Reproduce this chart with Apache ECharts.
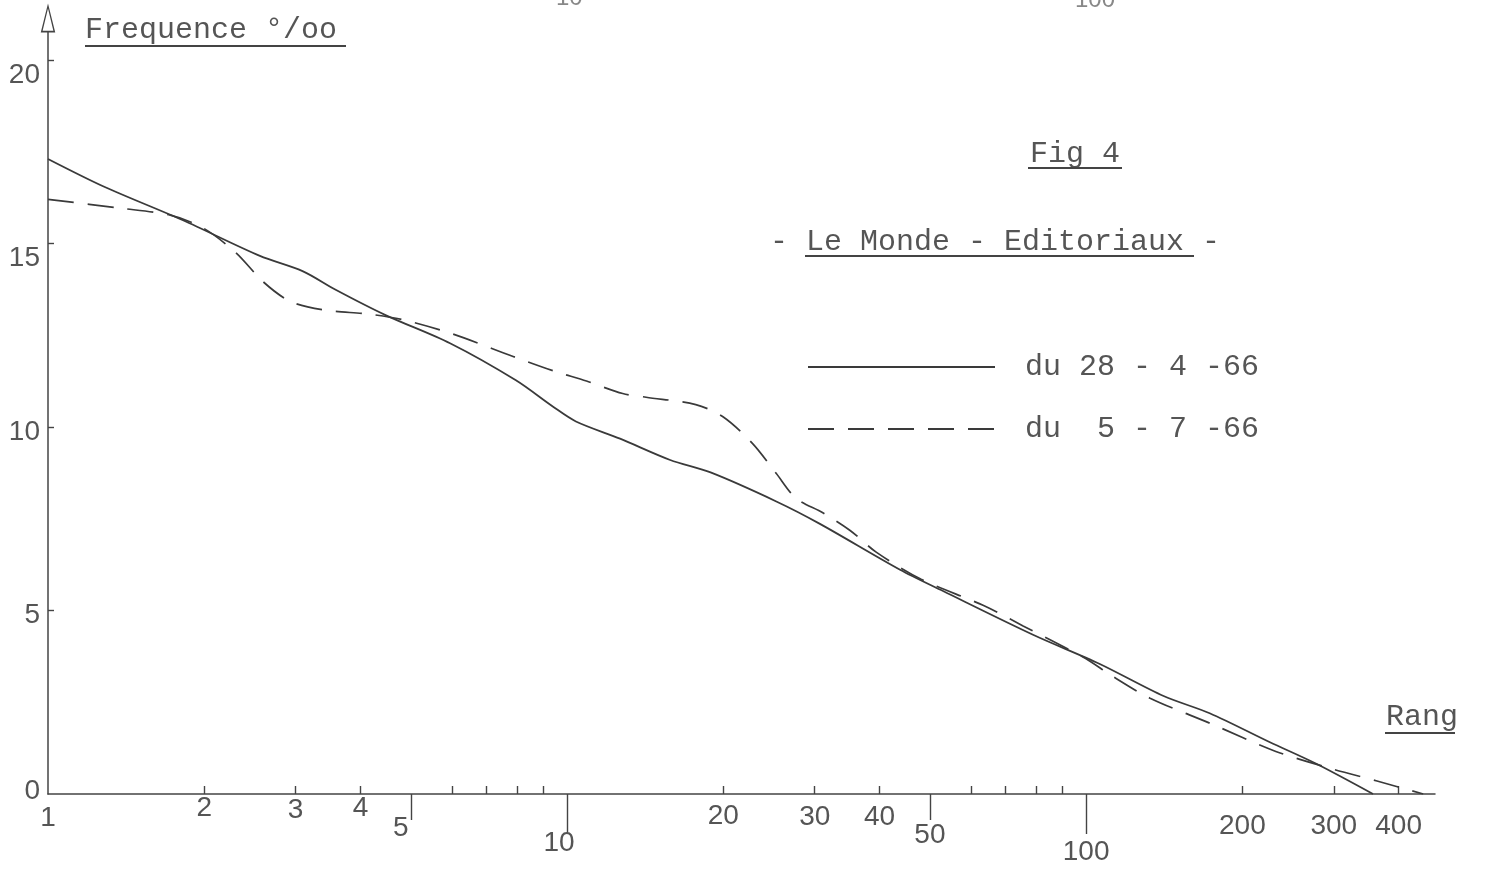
<!DOCTYPE html>
<html>
<head>
<meta charset="utf-8">
<title>Fig 4 - Le Monde - Editoriaux</title>
<script src="https://cdn.jsdelivr.net/npm/echarts@6/dist/echarts.min.js"></script>
<style>
    html, body { margin: 0; padding: 0; background: #fff; }
    #chart { width: 1494px; height: 876px; }
</style>
</head>
<body>
<div id="chart"></div>
<script>
// rang (log) / frequence pour mille
var rangsAvril = [1, 1.28, 1.82, 2.56, 3.1, 3.59, 4.48, 5.95, 7.97, 9.4, 10.4, 12.65, 15.8, 18.9, 25.3, 30.7, 43.8, 53, 79, 106, 141, 173, 226, 277, 357]
var freqAvril = [17.3, 16.55, 15.63, 14.66, 14.24, 13.73, 13.04, 12.28, 11.27, 10.55, 10.15, 9.68, 9.1, 8.76, 7.97, 7.36, 6.11, 5.53, 4.34, 3.55, 2.67, 2.2, 1.41, 0.83, 0]

var rangsJuillet = [1, 1.38, 1.72, 1.99, 2.3, 2.6, 2.93, 3.39, 4.17, 4.83, 6.03, 7.87, 9.4, 10.9, 12.8, 14.2, 17.7, 20, 22.8, 25.3, 27.6, 31.1, 35.1, 39.4, 48.1, 63.3, 75.6, 98.6, 112.7, 132.8, 173, 232, 295, 362, 446]
var freqJuillet = [16.2, 15.96, 15.77, 15.42, 14.75, 13.95, 13.42, 13.19, 13.07, 12.92, 12.53, 11.92, 11.53, 11.25, 10.91, 10.81, 10.61, 10.27, 9.54, 8.73, 8.06, 7.66, 7.18, 6.59, 5.85, 5.14, 4.58, 3.73, 3.2, 2.61, 1.93, 1.16, 0.7, 0.36, 0]

var nomsSeries = ['du 28 - 4 -66', 'du  5 - 7 -66']

// graduations de l'axe des rangs
var petitsTraits = [2, 3, 4, 6, 7, 8, 9, 20, 30, 40, 60, 70, 80, 90, 200, 300, 400]
var labelsHaut = [2, 3, 4, 20, 30, 40, 200, 300, 400]
var traitsMoyens = [5, 50]
var labelsMoyens = [1, 5, 50]
var traitsLongs = [10, 100]
var labelsBas = [10, 100]
var labelsFreq = [0, 5, 10, 15, 20]
var traitsFreq = [5, 10, 15, 20]

var ink = '#3a3a3a'
var grey = '#555'
var mono = '"Liberation Mono", "DejaVu Sans Mono", monospace'
var sans = '"Liberation Sans", "DejaVu Sans", sans-serif'

// decalage des chiffres (la feuille est un peu de travers) : [haut, droite]
var decalX = {
    1: [10, 0], 2: [0, 0], 3: [2, 0], 4: [0, 0], 5: [20, 20],
    10: [35, 16], 20: [8, 0], 30: [9, 0], 40: [9, 0], 50: [27, 0],
    100: [44, 0], 200: [18, 0], 300: [18, 0], 400: [18, 0]
}

function pairs(xs, ys) {
    var out = []
    for (var i = 0; i < xs.length; i++) out.push([xs[i], ys[i]])
    return out
}

function richX() {
    var r = {}
    for (var k in decalX) {
        r['p' + k] = { fontFamily: sans, fontSize: 28, color: grey, padding: [decalX[k][0], decalX[k][1], 0, 0] }
    }
    return r
}

function rangAxis(ticks, tickLen, labels, showLine) {
    return {
        type: 'log',
        logBase: 10,
        min: 1,
        max: 470,
        position: 'bottom',
        axisLine: { show: showLine, lineStyle: { color: '#444', width: 1.5 } },
        axisTick: {
            show: true,
            inside: showLine,
            length: tickLen,
            customValues: ticks,
            lineStyle: { color: '#444', width: 1.4 }
        },
        axisLabel: {
            show: true,
            customValues: labels,
            margin: 0,
            fontFamily: sans,
            fontSize: 28,
            color: grey,
            formatter: function (v) {
                var n = Math.round(v)
                return '{p' + n + '|' + n + '}'
            },
            rich: richX()
        },
        minorTick: { show: false },
        splitLine: { show: false }
    }
}

var myChart = echarts.init(document.getElementById('chart'))

var option = {
    backgroundColor: '#fff',
    animation: false,
    grid: { left: 48, right: 59, top: 32, bottom: 82, containLabel: false },
    legend: {
        orient: 'vertical',
        left: 802,
        top: 347,
        itemWidth: 187,
        itemHeight: 14,
        itemGap: 32,
        data: nomsSeries,
        itemStyle: { color: 'transparent', borderColor: 'transparent', borderWidth: 0 },
        textStyle: {
            fontFamily: mono,
            fontSize: 30,
            color: grey,
            padding: [4, 0, 0, 25]
        }
    },
    xAxis: [
        rangAxis(petitsTraits, 8, labelsHaut, true),
        rangAxis(traitsMoyens, 26, labelsMoyens, false),
        rangAxis(traitsLongs, 40, labelsBas, false)
    ],
    yAxis: {
        type: 'value',
        min: 0,
        max: 20.76,
        axisLine: {
            show: true,
            lineStyle: { color: '#444', width: 1.5 },
            symbol: ['none', 'path://M5,0L10,20L0,20ZM5,3.5L1.3,18.8L8.7,18.8Z'],
            symbolSize: [15, 29],
            symbolOffset: [0, 14]
        },
        axisTick: {
            show: true,
            inside: true,
            length: 6,
            customValues: traitsFreq,
            lineStyle: { color: '#444', width: 1.4 }
        },
        axisLabel: {
            customValues: labelsFreq,
            margin: 8,
            fontFamily: sans,
            fontSize: 28,
            color: grey,
            formatter: function (v) {
                if (v >= 15) return '{bas|' + v + '}'
                if (v >= 5) return '{mi|' + v + '}'
                return '{haut|' + v + '}'
            },
            rich: {
                bas: { fontFamily: sans, fontSize: 28, color: grey, padding: [30, 0, 0, 0] },
                mi: { fontFamily: sans, fontSize: 28, color: grey, padding: [10, 0, 0, 0] },
                haut: { fontFamily: sans, fontSize: 28, color: grey, padding: [0, 0, 6, 0] }
            }
        },
        splitLine: { show: false }
    },
    series: [{
        name: nomsSeries[0],
        type: 'line',
        xAxisIndex: 0,
        symbol: 'none',
        smooth: 0.3,
        lineStyle: { color: ink, width: 1.8, type: 'solid' },
        itemStyle: { color: ink },
        data: pairs(rangsAvril, freqAvril)
    }, {
        name: nomsSeries[1],
        type: 'line',
        xAxisIndex: 0,
        symbol: 'none',
        smooth: 0.3,
        lineStyle: { color: ink, width: 1.7, type: [26, 14] },
        itemStyle: { color: ink },
        data: pairs(rangsJuillet, freqJuillet)
    }],
    graphic: [
        // restes de la page precedente, coupes en haut
        { type: 'text', left: 556, top: -14, style: { text: '10', font: '24px ' + sans, fill: '#888' } },
        { type: 'text', left: 1075, top: -12, style: { text: '100', font: '24px ' + sans, fill: '#888' } },

        { type: 'text', left: 85, top: 15, style: { text: 'Frequence °/oo', font: '30px ' + mono, fill: grey } },
        { type: 'line', shape: { x1: 85, y1: 46, x2: 346, y2: 46 }, style: { stroke: '#444', lineWidth: 2 } },

        { type: 'text', left: 1030, top: 139, style: { text: 'Fig 4', font: '30px ' + mono, fill: grey } },
        { type: 'line', shape: { x1: 1028, y1: 168, x2: 1122, y2: 168 }, style: { stroke: '#444', lineWidth: 2 } },

        { type: 'text', left: 770, top: 227, style: { text: '- Le Monde - Editoriaux -', font: '30px ' + mono, fill: grey } },
        { type: 'line', shape: { x1: 805, y1: 256, x2: 1194, y2: 256 }, style: { stroke: '#444', lineWidth: 2 } },

        { type: 'text', left: 1386, top: 702, style: { text: 'Rang', font: '30px ' + mono, fill: grey } },
        { type: 'line', shape: { x1: 1385, y1: 733, x2: 1455, y2: 733 }, style: { stroke: '#444', lineWidth: 2 } }
    ]
}

myChart.setOption(option)
window.addEventListener('resize', function () {
    myChart.resize()
})
</script>
</body>
</html>
